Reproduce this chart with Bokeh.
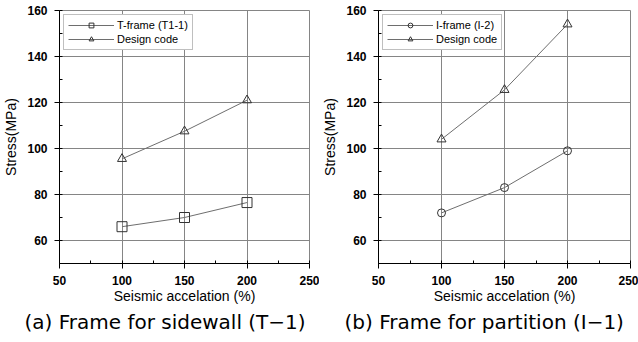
from bokeh.plotting import figure
from bokeh.layouts import row
from bokeh.models import SingleIntervalTicker, Range1d, Title, Legend, LegendItem
from bokeh.embed import file_html
from bokeh.resources import INLINE

accel = [100, 150, 200]
t_frame = [66, 70, 76.5]
t_design = [95.5, 107.5, 121]
i_frame = [72, 83, 99]
i_design = [104, 125.5, 154]

x_label = "Seismic accelation (%)"
y_label = "Stress(MPa)"
captions = ["(a) Frame for sidewall (T\u22121)", "(b) Frame for partition (I\u22121)"]
names_a = ["T-frame (T1-1)", "Design code"]
names_b = ["I-frame (I-2)", "Design code"]

FONT = "Liberation Sans"


def make(series1, series2, marker1, size1, names, caption, left, right, cap_offset):
    p = figure(width=319, height=342, output_backend="svg", toolbar_location=None,
               x_range=Range1d(50, 250), y_range=Range1d(50, 160),
               min_border_left=left, min_border_right=right, min_border_top=10,
               min_border_bottom=79)
    p.xaxis.ticker = SingleIntervalTicker(interval=50, num_minor_ticks=2)
    p.yaxis.ticker = SingleIntervalTicker(interval=20, num_minor_ticks=2)
    for ax in (p.xaxis, p.yaxis):
        ax.major_tick_in = 0
        ax.major_tick_out = 5
        ax.minor_tick_in = 3
        ax.minor_tick_out = 0
        ax.axis_line_color = "black"
        ax.major_tick_line_color = "black"
        ax.minor_tick_line_color = "black"
        ax.major_label_text_font = FONT
        ax.major_label_text_font_size = "12px"
        ax.major_label_text_font_style = "bold"
        ax.major_label_text_color = "black"
        ax.axis_label_text_font = FONT
        ax.axis_label_text_font_size = "14px"
        ax.axis_label_text_font_style = "normal"
        ax.axis_label_text_color = "black"
    p.xaxis.axis_label = x_label
    p.yaxis.axis_label = y_label
    p.xaxis.major_label_standoff = 7
    p.yaxis.major_label_standoff = 7
    p.xaxis.axis_label_standoff = 0
    p.yaxis.axis_label_standoff = 5
    p.grid.grid_line_color = "#858585"
    p.grid.grid_line_width = 1
    p.outline_line_color = "#858585"
    p.background_fill_color = "white"
    p.border_fill_color = "white"

    l1 = p.line(accel, series1, line_color="#6e6e6e", line_width=1)
    m1 = p.scatter(accel, series1, marker=marker1, size=size1, fill_color=None,
                   line_color="#333333", line_width=1)
    l2 = p.line(accel, series2, line_color="#6e6e6e", line_width=1)
    m2 = p.scatter(accel, series2, marker="triangle", size=9, fill_color=None,
                   line_color="#333333", line_width=1)
    legend = Legend(items=[LegendItem(label=names[0], renderers=[l1, m1]),
                           LegendItem(label=names[1], renderers=[l2, m2])],
                    location="top_left", border_line_color="#808080",
                    border_line_width=1.5,
                    label_text_font=FONT, label_text_font_size="11px",
                    label_text_color="black",
                    glyph_width=46, glyph_height=12, label_height=12,
                    spacing=2, padding=4, margin=4, label_standoff=3,
                    background_fill_alpha=1)
    p.add_layout(legend, "center")
    t = Title(text=caption, align="left", text_font="DejaVu Sans",
              text_font_size="20px", text_font_style="normal", text_color="black",
              standoff=2, offset=cap_offset)
    p.add_layout(t, "below")
    return p


pa = make(t_frame, t_design, "square", 10, names_a, captions[0], 57, 10, -35)
pb = make(i_frame, i_design, "circle", 8, names_b, captions[1], 58, 8, -34)
layout = row(pa, pb)
open("out.html", "w").write(file_html(layout, INLINE))
